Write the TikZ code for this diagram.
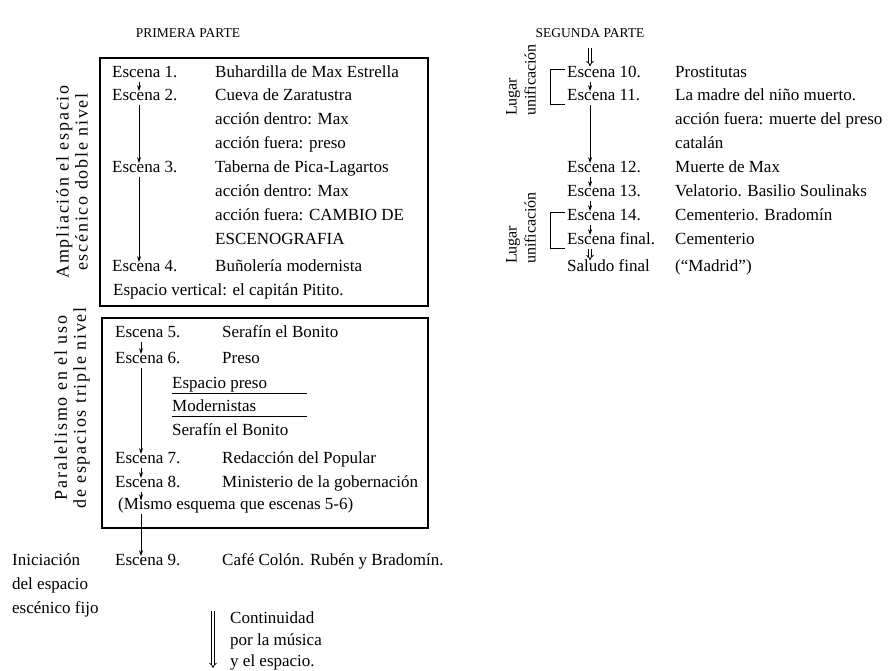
\documentclass[tikz,border=0pt]{standalone}
\usepackage{fontspec}
\setmainfont{Liberation Serif}
\usetikzlibrary{arrows.meta,positioning,fit}

\begin{document}
\begin{tikzpicture}[
    x=1pt, y=-1pt,
    txt/.style={anchor=west, inner sep=0pt, text height=11.5pt, text depth=3.7pt, font=\fontsize{17}{19}\selectfont},
    head/.style={inner sep=0pt, font=\fontsize{13.5}{15}\selectfont},
    side/.style={rotate=90, align=center, inner sep=0pt, font=\fontsize{18}{19}\selectfont\addfontfeature{LetterSpace=10}},
    sidenarrow/.style={rotate=90, align=left, inner sep=0pt, font=\fontsize{16}{19}\selectfont},
    frame/.style={draw, line width=1.6pt, inner sep=0pt},
    arrow/.style={-{Stealth[length=6pt,width=4pt]}, line width=0.8pt, shorten >=-2pt},
    dbl/.style={double, double distance=1.8pt, line width=0.8pt, -{Implies}}
]
\useasboundingbox (0,0) rectangle (894,670);

\node[head] (prim) at (188,33) {PRIMERA PARTE};
\node[head] (seg) at (590,33) {SEGUNDA PARTE};

% primer bloque
\node[txt] (e1) at (112,74) {Escena 1.};
\node[txt] (d1) at (215,74) {Buhardilla de Max Estrella};
\node[txt] (e2) at (112,97) {Escena 2.};
\node[txt] (d2) at (215,97) {Cueva de Zaratustra};
\node[txt] (d2a) at (215,121) {acción dentro: Max};
\node[txt] (d2b) at (215,145) {acción fuera: preso};
\node[txt] (e3) at (112,169) {Escena 3.};
\node[txt] (d3) at (215,169) {Taberna de Pica-Lagartos};
\node[txt] (d3a) at (215,193) {acción dentro: Max};
\node[txt] (d3b) at (215,217) {acción fuera: CAMBIO DE};
\node[txt] (d3c) at (215,241) {ESCENOGRAFIA};
\node[txt] (e4) at (112,268) {Escena 4.};
\node[txt] (d4) at (215,268) {Buñolería modernista};
\node[txt] (vert) at (113,292) {Espacio vertical: el capitán Pitito.};
\node[frame, fit={(100,58) (428,306)}] (box1) {};
\node[side] (amp) at (72,182) {Ampliación el espacio\\escénico doble nivel};

% segundo bloque
\node[txt] (e5) at (115,334) {Escena 5.};
\node[txt] (d5) at (222,334) {Serafín el Bonito};
\node[txt] (e6) at (115,360) {Escena 6.};
\node[txt] (d6) at (222,360) {Preso};
\node[txt] (sub1) at (172,385) {Espacio preso};
\node[txt] (sub2) at (172,408) {Modernistas};
\node[txt] (sub3) at (172,432) {Serafín el Bonito};
\node[txt] (e7) at (115,460) {Escena 7.};
\node[txt] (d7) at (222,460) {Redacción del Popular};
\node[txt] (e8) at (115,484) {Escena 8.};
\node[txt] (d8) at (222,484) {Ministerio de la gobernación};
\node[txt] (mismo) at (118,506) {(Mismo esquema que escenas 5-6)};
\node[frame, fit={(102,318) (428,528)}] (box2) {};
\node[side] (par) at (72,408) {Paralelismo en el uso\\de espacios triple nivel};

\draw (sub1.south west) -- ++(135,0);
\draw (sub2.south west) -- ++(135,0);

% escena 9
\node[txt] (e9) at (115,562) {Escena 9.};
\node[txt] (d9) at (222,562) {Café Colón. Rubén y Bradomín.};
\node[txt] (ini1) at (12,562) {Iniciación};
\node[txt] (ini2) at (12,586) {del espacio};
\node[txt] (ini3) at (12,610) {escénico fijo};
\node[txt] (cont1) at (230,620) {Continuidad};
\node[txt] (cont2) at (230,642) {por la música};
\node[txt] (cont3) at (230,663) {y el espacio.};
\coordinate (ctop) at (213,611);
\coordinate (cbot) at (213,668);
\draw[dbl] (ctop) -- (cbot);

% flechas de la primera parte
\coordinate (ax) at (139,0);
\coordinate (bx) at (141,0);
\draw[arrow] (e1.south -| ax) -- (e2.north -| ax);
\draw[arrow] (e2.south -| ax) -- (e3.north -| ax);
\draw[arrow] (e3.south -| ax) -- (e4.north -| ax);
\draw[arrow] (e5.south -| bx) -- (e6.north -| bx);
\draw[arrow] (e6.south -| bx) -- (e7.north -| bx);
\draw[arrow] (e7.south -| bx) -- (e8.north -| bx);
\draw[arrow] (e8.south -| bx) -- (mismo.north -| bx);
\draw[arrow] (mismo.south -| bx) -- (e9.north -| bx);

% segunda parte
\node[txt] (e10) at (567,74) {Escena 10.};
\node[txt] (d10) at (675,74) {Prostitutas};
\node[txt] (e11) at (567,97) {Escena 11.};
\node[txt] (d11) at (675,97) {La madre del niño muerto.};
\node[txt] (d11a) at (675,121) {acción fuera: muerte del preso};
\node[txt] (d11b) at (675,145) {catalán};
\node[txt] (e12) at (567,169) {Escena 12.};
\node[txt] (d12) at (675,169) {Muerte de Max};
\node[txt] (e13) at (567,193) {Escena 13.};
\node[txt] (d13) at (675,193) {Velatorio. Basilio Soulinaks};
\node[txt] (e14) at (567,217) {Escena 14.};
\node[txt] (d14) at (675,217) {Cementerio. Bradomín};
\node[txt] (efin) at (567,241) {Escena final.};
\node[txt] (dfin) at (675,241) {Cementerio};
\node[txt] (sal) at (567,268) {Saludo final};
\node[txt] (dsal) at (675,268) {(“Madrid”)};
\node[sidenarrow] (lug1) at (521,80) {Lugar\\unificación};
\node[sidenarrow] (lug2) at (521,228) {Lugar\\unificación};

\draw[line width=0.8pt] ([xshift=-2pt,yshift=-3pt]e10.north west) -- ++(-15,0) |- ([xshift=-2pt]e11.south west);
\draw[line width=0.8pt] ([xshift=-2pt,yshift=-3pt]e14.north west) -- ++(-15,0) |- ([xshift=-2pt]efin.south west);

\coordinate (cx) at (590,0);
\coordinate (stop) at (590,48);
\draw[dbl] (stop) -- (e10.north -| cx);
\draw[arrow] (e10.south -| cx) -- (e11.north -| cx);
\draw[arrow] (e11.south -| cx) -- (e12.north -| cx);
\draw[arrow] (e12.south -| cx) -- (e13.north -| cx);
\draw[arrow] (e13.south -| cx) -- (e14.north -| cx);
\draw[arrow] (e14.south -| cx) -- (efin.north -| cx);
\draw[dbl] (efin.south -| cx) -- (sal.north -| cx);
\end{tikzpicture}
\end{document}
